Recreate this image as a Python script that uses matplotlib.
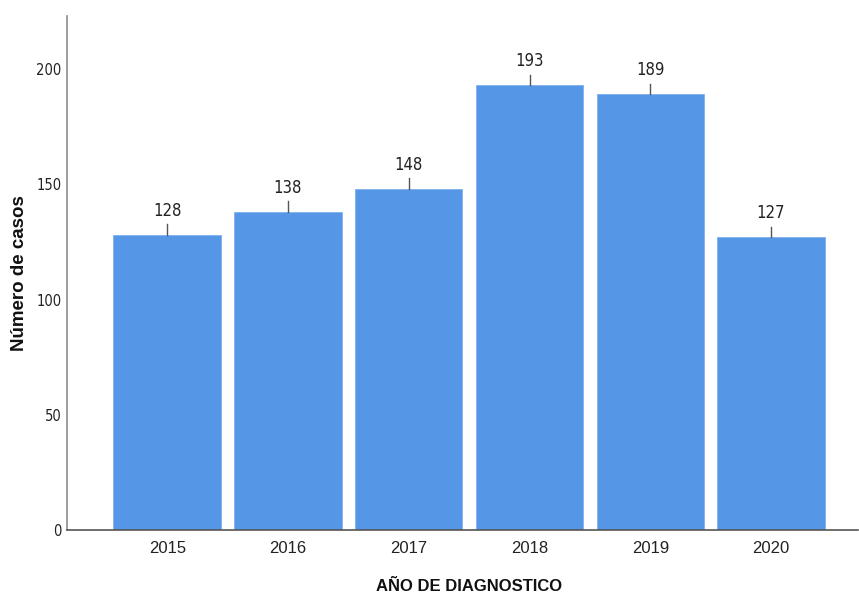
import numpy as np
import matplotlib
matplotlib.use('Agg')
from matplotlib import pyplot as plt

# datos
anios = ['2015', '2016', '2017', '2018', '2019', '2020']
casos = [128, 138, 148, 193, 189, 127]
yticks = [0, 50, 100, 150, 200]

color_barra = '#5596e6'

fig = plt.figure(figsize=(8.59, 5.97), dpi=100)
ax = fig.add_axes([0.078, 0.1122, 0.9208, 0.861])

x = np.arange(len(anios))
ax.bar(x, casos, width=0.89, color=color_barra, edgecolor='#7fb0ee', linewidth=0.6, zorder=2)

# etiquetas con linea guia
for xi, v in zip(x, casos):
    ax.plot([xi, xi], [v, v + 4.6], color='#555555', linewidth=1.0, zorder=3)
    ax.text(xi, v + 6.5, str(v), ha='center', va='bottom', fontsize=12,
            family='DejaVu Sans', fontstretch='condensed', color='#222222')

ax.set_xlim(-0.83, 5.72)
ax.set_ylim(0, 223)
ax.set_xticks(x)
ax.set_xticklabels(anios, fontsize=12, family='Liberation Sans', color='#222222')
ax.set_yticks(yticks)
ax.set_yticklabels([str(t) for t in yticks], fontsize=10.5, family='DejaVu Sans',
                   fontstretch='condensed', color='#222222')
ax.tick_params(axis='both', length=0)
ax.tick_params(axis='y', pad=4)
ax.tick_params(axis='x', pad=8)

for s in ['top', 'right']:
    ax.spines[s].set_visible(False)
ax.spines['left'].set_color('#8c8c8c')
ax.spines['bottom'].set_color('#555555')
ax.spines['left'].set_linewidth(1.2)
ax.spines['bottom'].set_linewidth(1.2)

fig.text(0.023, 0.543, 'Número de casos', rotation=90, ha='center', va='center',
         fontsize=13.5, fontweight='bold', family='Liberation Sans', color='#111111')
fig.text(0.546, 0.017, 'AÑO DE DIAGNOSTICO', ha='center', va='center',
         fontsize=12, fontweight='bold', family='Liberation Sans', color='#111111')

fig.savefig('out.png', dpi=100)
